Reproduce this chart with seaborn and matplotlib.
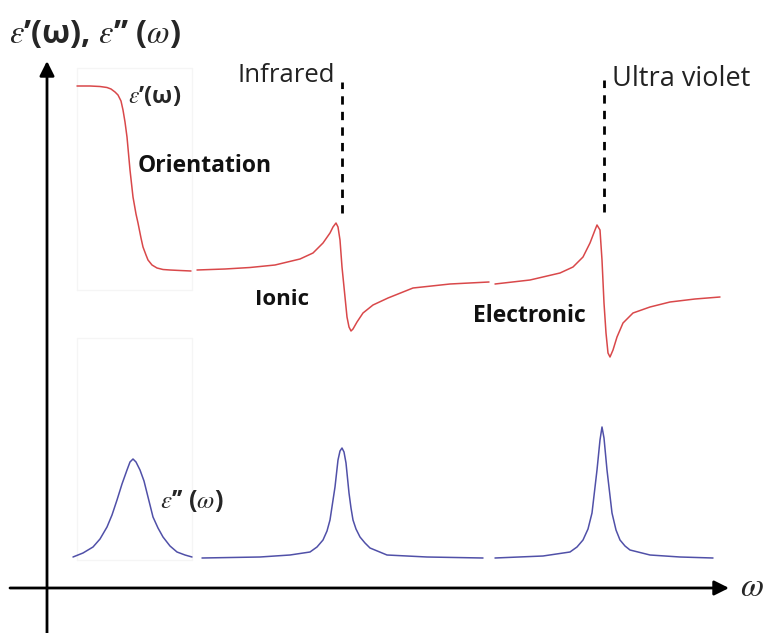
import matplotlib
matplotlib.use("Agg")
import matplotlib.pyplot as plt
import seaborn as sns
import pandas as pd

# ---- data (omega: arbitrary units, eps: arbitrary units) ----
# eps' (real part), three separately drawn segments
re1_w = [30, 43, 53, 60, 64, 68, 71, 74, 76, 78, 80, 83, 86, 89, 91, 94, 96, 99, 101, 105, 110, 116, 123, 133, 144]
re1_e = [502, 502, 501.5, 500.5, 499, 496, 493, 487, 478, 466, 451, 418, 391, 374, 365, 350, 341, 333, 328, 323, 320, 318.5, 318, 317.5, 317]

re2_w = [150, 178, 203, 228, 253, 266, 276, 283, 286, 289, 291, 293, 295, 298, 300, 302, 304, 306, 310, 316, 326, 341, 366, 403, 442]
re2_e = [318, 319, 320.5, 323, 329, 335, 345, 355, 361, 365, 361, 348, 321, 291, 271, 261, 257, 259, 266, 275, 283, 290, 300, 304, 306]

re3_w = [448, 483, 513, 526, 536, 543, 548, 550, 553, 555, 557, 559, 561, 563, 566, 570, 576, 586, 603, 623, 648, 673]
re3_e = [304, 308, 315, 321, 331, 345, 358, 363, 358, 328, 285, 255, 235, 231, 238, 251, 265, 275, 281, 286, 289, 291]

# eps'' (imaginary part), three segments
im1_w = [26, 36, 46, 53, 60, 65, 70, 75, 80, 83, 86, 89, 93, 97, 100, 103, 106, 111, 116, 123, 130, 138, 145]
im1_e = [31, 35, 41, 49, 61, 73, 88, 104, 118, 126, 129, 126, 118, 107, 95, 83, 71, 60, 51, 42, 36, 33, 31]

im2_w = [155, 213, 243, 263, 270, 276, 280, 283, 288, 291, 293, 295, 297, 299, 302, 304, 306, 309, 313, 318, 323, 340, 380, 436]
im2_e = [30, 31, 33, 36, 41, 48, 57, 68, 101, 128, 137, 140, 136, 125, 95, 80, 68, 59, 51, 45, 40, 33, 31, 30]

im3_w = [448, 496, 523, 530, 536, 541, 545, 550, 553, 555, 557, 560, 565, 569, 573, 578, 583, 603, 633, 666]
im3_e = [30, 32, 36, 41, 48, 59, 75, 118, 148, 161, 150, 118, 75, 58, 48, 42, 38, 33, 31, 30]

# resonance markers (dashed verticals) and labels
res_w = [295, 557]
res_top = [506, 508]
res_bot = [375, 376]
region_labels = ["Infrared", "Ultra violet"]
mech_labels = ["Orientation", "Ionic", "Electronic"]

# ---- styling ----
sns.set_theme(style="white")
plt.rcParams["font.family"] = ["Open Sans", "DejaVu Sans"]
plt.rcParams["mathtext.fontset"] = "stix"

RED = "#d9484a"
BLUE = "#5050a8"

fig = plt.figure(figsize=(7.66, 6.33), dpi=100)
ax = fig.add_axes([0, 0, 1, 1])

# faint frames (scan artifacts in the original)
for (x0, x1, y0, y1) in [(30, 145, 298, 520), (30, 145, 28, 250)]:
    ax.plot([x0, x1, x1, x0, x0], [y0, y0, y1, y1, y0], color="#f5f5f5", lw=1.0, zorder=0)

for w, e in [(re1_w, re1_e), (re2_w, re2_e), (re3_w, re3_e)]:
    df = pd.DataFrame({"w": w, "e": e})
    sns.lineplot(data=df, x="w", y="e", sort=False, estimator=None, color=RED, lw=1.1,
                 solid_joinstyle="round", ax=ax)
for w, e in [(im1_w, im1_e), (im2_w, im2_e), (im3_w, im3_e)]:
    df = pd.DataFrame({"w": w, "e": e})
    sns.lineplot(data=df, x="w", y="e", sort=False, estimator=None, color=BLUE, lw=1.1,
                 solid_joinstyle="round", ax=ax)

ax.set_xlim(-47, 719)
ax.set_ylim(-45, 588)
ax.axis("off")

# dashed resonance markers
for w, t, b in zip(res_w, res_top, res_bot):
    ax.plot([w, w], [b, t], color="black", lw=2.0, linestyle=(0, (3, 2.6)))

# axes with arrows
arrow = dict(arrowstyle="-|>", lw=2.0, color="black", mutation_scale=22, shrinkA=0, shrinkB=0)
ax.annotate("", xy=(0, 527), xytext=(0, -45), arrowprops=arrow)
ax.annotate("", xy=(682, 0), xytext=(-37, 0), arrowprops=arrow)

# texts
ax.text(-38, 553, r"$\varepsilon$’(ω), $\varepsilon$’’ ($\omega$)", fontsize=23.5,
        fontweight="bold", ha="left", va="center")
ax.text(81, 491, r"$\varepsilon$’(ω)", fontsize=17, fontweight="bold", ha="left", va="center")
ax.text(113, 87, r"$\varepsilon$’’ ($\omega$)", fontsize=18, fontweight="bold", ha="left", va="center")
ax.text(190, 506, region_labels[0], fontsize=18.5, ha="left", va="baseline", color="#222222")
ax.text(565, 502, region_labels[1], fontsize=19.5, ha="left", va="baseline", color="#222222")
ax.text(91, 416, mech_labels[0], fontsize=16.5, fontweight="bold", ha="left", va="baseline", color="#111111")
ax.text(208, 283, mech_labels[1], fontsize=16, fontweight="bold", ha="left", va="baseline", color="#111111")
ax.text(426, 266, mech_labels[2], fontsize=16.5, fontweight="bold", ha="left", va="baseline", color="#111111")
ax.text(693, 1, r"$\omega$", fontsize=24, ha="left", va="center")

fig.savefig("out.png", dpi=100)
